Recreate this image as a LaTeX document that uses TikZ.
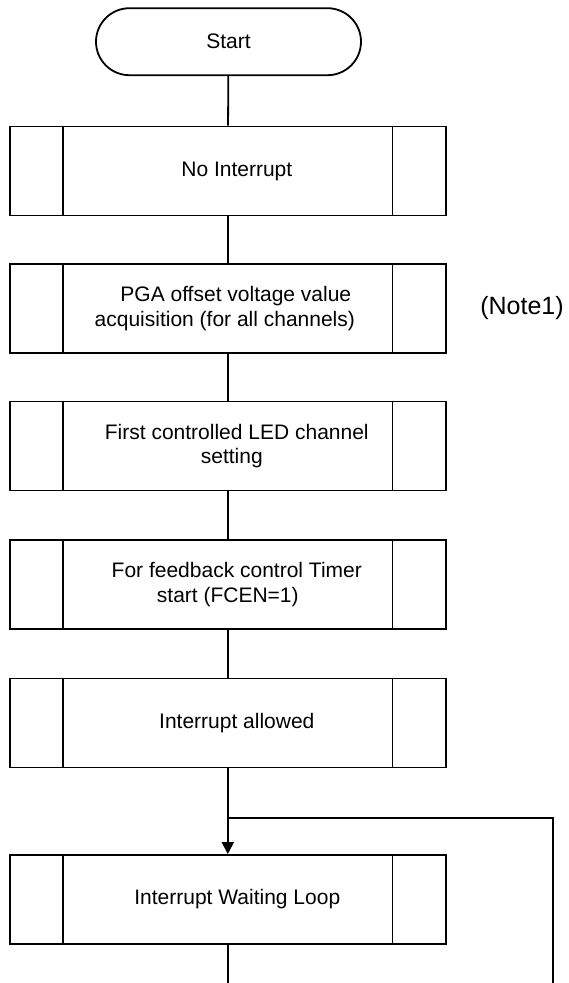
\documentclass[tikz,border=0pt]{standalone}
\usepackage{fontspec}
\setmainfont{Liberation Sans}
\usetikzlibrary{arrows.meta}
\begin{document}
\begin{tikzpicture}[x=1pt,y=-1pt,
  line width=1.8pt,
  every node/.style={font=\fontsize{21}{24.5}\selectfont},
  proc/.style={draw, rectangle, minimum width=435.6pt, minimum height=89pt, inner sep=0pt, align=center},
  term/.style={draw, rectangle, rounded corners=33.5pt, minimum width=265pt, minimum height=67pt, inner sep=0pt},
  notetext/.style={font=\fontsize{25}{28}\selectfont},
  arr/.style={-{Triangle[length=12pt,width=12pt]}}]
\useasboundingbox (0,0) rectangle (569,983);
\node[term] (start) at (228.5,41.7) {Start};
\node[proc] (b1) at (227.8,171) {\hspace*{18pt}No Interrupt};
\node[proc] (b2) at (227.8,308.5) {\hspace*{16pt}PGA offset voltage value\\acquisition (for all channels)\hspace*{6pt}};
\node[proc] (b3) at (227.8,446) {\hspace*{18pt}First controlled LED channel\\\hspace*{8pt}setting};
\node[proc] (b4) at (227.8,584.5) {\hspace*{18pt}For feedback control Timer\\start (FCEN=1)};
\node[proc] (b5) at (227.8,723) {\hspace*{18pt}Interrupt allowed};
\node[proc] (b6) at (227.8,899.5) {\hspace*{19pt}Interrupt Waiting Loop};
\node[notetext] (note) at (522,308) {(Note1)};
\foreach \n in {b1,b2,b3,b4,b5,b6}{
  \draw ([xshift=54pt]\n.north west) -- ([xshift=54pt]\n.south west);
  \draw ([xshift=-54pt]\n.north east) -- ([xshift=-54pt]\n.south east);
}
\coordinate (join) at (227.8,817.7);
\coordinate (endA) at (227.8,985);
\coordinate (endB) at (552.6,985);
\draw (start) -- (b1);
\draw (b1) -- (b2);
\draw (b2) -- (b3);
\draw (b3) -- (b4);
\draw (b4) -- (b5);
\draw[arr] (b5) -- (b6);
\draw (b6) -- (endA);
\draw (endB) |- (join);
\end{tikzpicture}
\end{document}
